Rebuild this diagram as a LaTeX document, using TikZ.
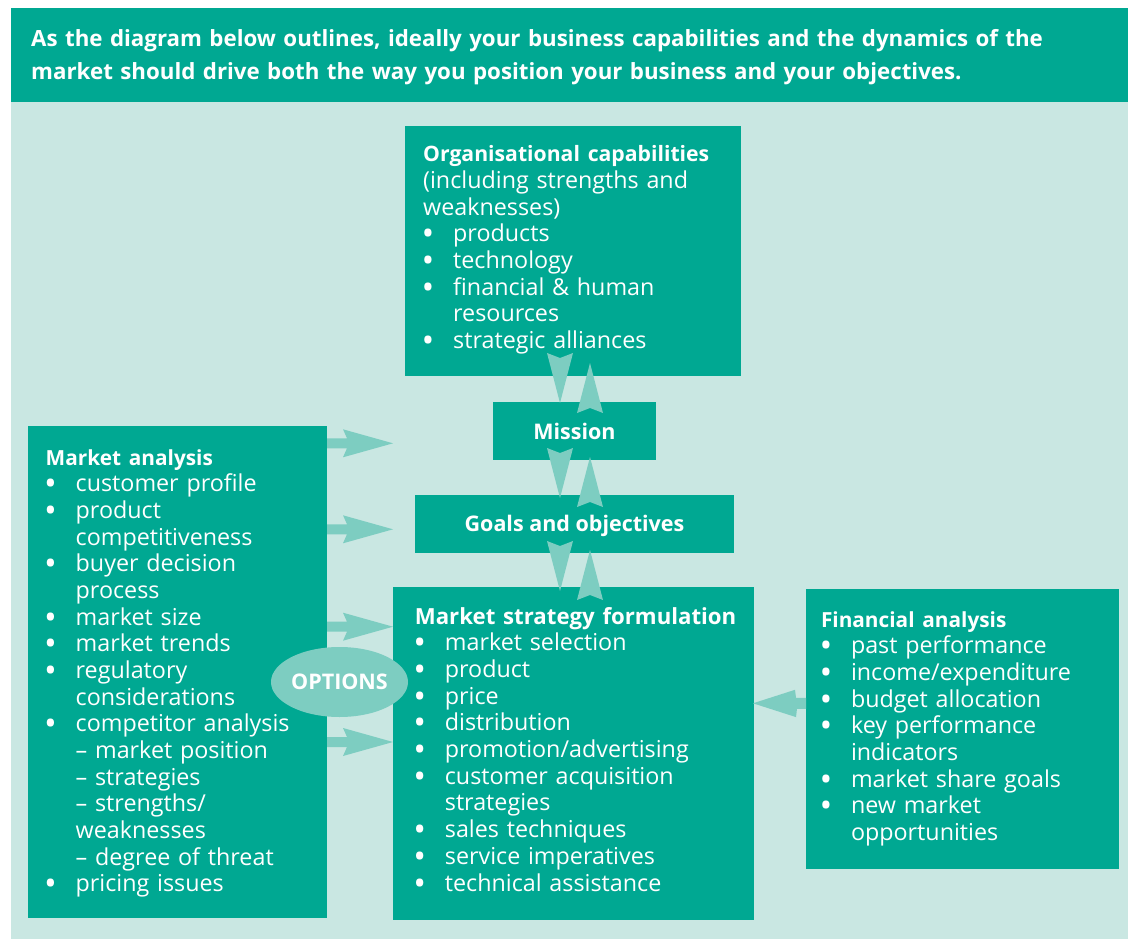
\documentclass[tikz,border=0pt]{standalone}
\usepackage{fontspec}
\setmainfont{Open Sans}
\usetikzlibrary{shapes.geometric}

\definecolor{deepteal}{RGB}{0,168,146}
\definecolor{paleteal}{RGB}{201,231,226}
\definecolor{mintteal}{RGB}{125,205,193}

\newcommand\itembul{\makebox[30pt][l]{\raisebox{-1pt}[0pt][0pt]{\bfseries\fontsize{26}{26}\selectfont •}}}
\newcommand\itemcont{\hspace*{30pt}}
\newcommand\bodysize{\fontsize{23.3}{26.67}\selectfont}
\newcommand\titlesize{\bfseries\fontsize{20.8}{26.67}\selectfont}

\tikzset{
  box/.style={fill=deepteal, draw=none, inner sep=0pt, outer sep=0pt, anchor=north west},
  boxtext/.style={text=white, anchor=base west, inner sep=0pt, align=left, text width=#1, font=\bodysize},
  centretext/.style={text=white, font=\bfseries\fontsize{21.5}{26}\selectfont},
  % block arrows
  downarr/.pic={\fill[mintteal] (-13,0) -- (0,5) -- (13,0) -- (0,50) -- cycle;},
  uparr/.pic={\fill[mintteal] (-13,50) -- (0,45) -- (13,50) -- (0,0) -- cycle;},
  rightarr/.pic={\fill[mintteal] (0,-5) -- (20,-5) -- (16,-14) -- (66,0) -- (16,14) -- (20,5) -- (0,5) -- cycle;},
  leftarr/.pic={\fill[mintteal] (0,-5.5) -- (-10,-5.5) -- (-11,-13.5) -- (-53,0) -- (-10,13.8) -- (-9,5.5) -- (0,5.5) -- cycle;},
}

\begin{document}
\begin{tikzpicture}[x=1pt,y=-1pt]
\useasboundingbox (0,0) rectangle (1128,939);
\fill[white] (0,0) rectangle (1128,939);

% panel and heading band
\fill[paleteal] (11,102) rectangle (1128,939);
\node[box, minimum width=1117, minimum height=94] (head) at (11,8) {};
\node[text=white, anchor=base west, inner sep=0pt, align=left, text width=1070pt,
      font=\bfseries\fontsize{22.3}{32.67}\selectfont] (headtext) at (31,46.7)
  {As the diagram below outlines, ideally your business capabilities and the dynamics of the\\
   market should drive both the way you position your business and your objectives.};

% boxes
\node[box, minimum width=336, minimum height=250] (org) at (405,126) {};
\node[box, minimum width=163, minimum height=58] (mission) at (493,402) {};
\node[box, minimum width=319, minimum height=58] (goals) at (415,495) {};
\node[box, minimum width=361, minimum height=333] (strategy) at (393,587) {};
\node[box, minimum width=299, minimum height=492] (market) at (28,426) {};
\node[box, minimum width=313, minimum height=280] (finance) at (806,589) {};

% vertical block arrows between the central boxes
\pic at (560,353) {downarr};
\pic at (590,363) {uparr};
\pic at (560,448) {downarr};
\pic at (590,457) {uparr};
\pic at (560,541) {downarr};
\pic at (590,550) {uparr};

% arrows out of market analysis
\pic at (market.east |- 0,443.3) {rightarr};
\pic at (market.east |- 0,529.3) {rightarr};
\pic at (market.east |- 0,626.7) {rightarr};
\pic at (market.east |- 0,742) {rightarr};

% arrow from financial analysis into the strategy box
\pic at (finance.west |- 0,703.3) {leftarr};

% options
\node[ellipse, fill=mintteal, minimum width=137, minimum height=70, inner sep=0pt,
      text=white, font=\bfseries\fontsize{21.5}{26}\selectfont] (options) at (339.5,682) {OPTIONS};

% centred labels
\node[centretext] (missiontext) at (574.5,439.3) [anchor=base] {Mission};
\node[centretext] (goalstext) at (574.5,531) [anchor=base] {Goals and objectives};

% box texts
\node[boxtext=310pt] (orgtext) at (423,161.7)
 {{\bfseries\fontsize{21.2}{26.67}\selectfont Organisational capabilities}\\
  (including strengths and\\
  weaknesses)\\
  \itembul products\\
  \itembul technology\\
  \itembul financial \& human\\
  \itemcont resources\\
  \itembul strategic alliances};

\node[boxtext=270pt] (markettext) at (45.5,465)
 {{\titlesize Market analysis}\\
  \itembul customer profile\\
  \itembul product\\
  \itemcont competitiveness\\
  \itembul buyer decision\\
  \itemcont process\\
  \itembul market size\\
  \itembul market trends\\
  \itembul regulatory\\
  \itemcont considerations\\
  \itembul competitor analysis\\
  \itemcont -- market position\\
  \itemcont -- strategies\\
  \itemcont -- strengths/\\
  \itemcont weaknesses\\
  \itemcont -- degree of threat\\
  \itembul pricing issues};

\node[boxtext=335pt] (strategytext) at (414.7,624.3)
 {{\bfseries\fontsize{22.2}{26.67}\selectfont Market strategy formulation}\\
  \itembul market selection\\
  \itembul product\\
  \itembul price\\
  \itembul distribution\\
  \itembul promotion/advertising\\
  \itembul customer acquisition\\
  \itemcont strategies\\
  \itembul sales techniques\\
  \itembul service imperatives\\
  \itembul technical assistance};

\node[boxtext=290pt] (financetext) at (820.8,627.3)
 {{\titlesize Financial analysis}\\
  \itembul past performance\\
  \itembul income/expenditure\\
  \itembul budget allocation\\
  \itembul key performance\\
  \itemcont indicators\\
  \itembul market share goals\\
  \itembul new market\\
  \itemcont opportunities};
\end{tikzpicture}
\end{document}
